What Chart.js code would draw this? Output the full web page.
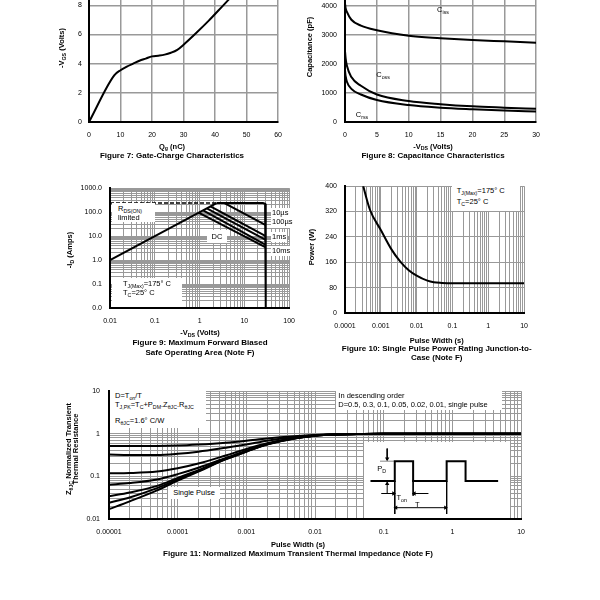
<!DOCTYPE html>
<html><head><meta charset="utf-8">
<script src="https://cdn.jsdelivr.net/npm/chart.js@4.4.1/dist/chart.umd.min.js"></script>
<style>
html,body{margin:0;padding:0;background:#fff;}
body{width:600px;height:600px;position:relative;overflow:hidden;font-family:"Liberation Sans",Arial,sans-serif;color:#000;}
.cw{position:absolute;}
.cw canvas{display:block;}
.t{position:absolute;white-space:nowrap;transform:translate(-50%,-50%);line-height:1;}
.tl{position:absolute;white-space:nowrap;transform:translate(0,-50%);line-height:1;}
.rot{transform:translate(-50%,-50%) rotate(-90deg);}
.ttl{font-size:7.5px;font-weight:bold;}
.cap{font-size:8px;font-weight:bold;}
.lab{font-size:7.5px;}
.wb{position:absolute;background:#fff;}
sub{font-size:70%;vertical-align:baseline;position:relative;top:0.35em;line-height:0;}
</style></head><body>

<div id="c7" class="cw"><canvas></canvas></div>
<div id="c8" class="cw"><canvas></canvas></div>
<div id="c9" class="cw"><canvas></canvas></div>
<div id="c10" class="cw"><canvas></canvas></div>
<div id="c11" class="cw"><canvas></canvas></div>
<div id="cin" class="cw" style="background:#fff"><canvas></canvas></div>

<!-- Figure 7 texts -->
<div class="t rot ttl" style="left:62px;top:48px">-V<sub>GS</sub> (Volts)</div>
<div class="t ttl" style="left:172px;top:146.5px">Q<sub>g</sub> (nC)</div>
<div class="t cap" style="left:172px;top:155.5px">Figure 7: Gate-Charge Characteristics</div>

<!-- Figure 8 texts -->
<div class="t rot ttl" style="left:310px;top:47px">Capacitance (pF)</div>
<div class="t ttl" style="left:433px;top:146.5px">-V<sub>DS</sub> (Volts)</div>
<div class="t cap" style="left:433px;top:155.5px">Figure 8: Capacitance Characteristics</div>
<div class="t lab" style="left:443px;top:10px">C<sub>iss</sub></div>
<div class="t lab" style="left:383px;top:75px">C<sub>oss</sub></div>
<div class="t lab" style="left:362px;top:115px">C<sub>rss</sub></div>

<!-- Figure 9 texts -->
<div class="t rot ttl" style="left:70px;top:250px">-I<sub>D</sub> (Amps)</div>
<div class="t ttl" style="left:200px;top:333.3px">-V<sub>DS</sub> (Volts)</div>
<div class="t cap" style="left:200px;top:343.3px">Figure 9: Maximum Forward Biased</div>
<div class="t cap" style="left:200px;top:352.7px">Safe Operating Area (Note F)</div>
<div class="wb" style="left:112px;top:203px;width:43px;height:19px"></div>
<div class="tl lab" style="left:118px;top:209px">R<sub>DS(ON)</sub></div>
<div class="tl lab" style="left:118px;top:218px">limited</div>
<div class="wb" style="left:112px;top:278px;width:70px;height:29px"></div>
<div class="tl lab" style="left:123px;top:284px">T<sub>J(Max)</sub>=175° C</div>
<div class="tl lab" style="left:123px;top:292.7px">T<sub>C</sub>=25° C</div>
<div class="wb" style="left:207px;top:230px;width:20px;height:13px"></div>
<div class="t lab" style="left:217px;top:236.7px">DC</div>
<div class="wb" style="left:271px;top:208px;width:20px;height:10px"></div>
<div class="tl lab" style="left:272px;top:213px">10µs</div>
<div class="wb" style="left:271px;top:217.5px;width:21px;height:10px"></div>
<div class="tl lab" style="left:272px;top:222.3px">100µs</div>
<div class="wb" style="left:271px;top:232px;width:16px;height:10px"></div>
<div class="tl lab" style="left:272px;top:236.7px">1ms</div>
<div class="wb" style="left:271px;top:246px;width:19px;height:10px"></div>
<div class="tl lab" style="left:272px;top:251px">10ms</div>

<!-- Figure 10 texts -->
<div class="t rot ttl" style="left:311.7px;top:246.7px">Power (W)</div>
<div class="t ttl" style="left:436.7px;top:340.7px">Pulse Width (s)</div>
<div class="t cap" style="left:436.7px;top:349.3px">Figure 10: Single Pulse Power Rating Junction-to-</div>
<div class="t cap" style="left:436.7px;top:358.3px">Case (Note F)</div>
<div class="wb" style="left:452px;top:181px;width:68px;height:30px"></div>
<div class="tl lab" style="left:456.7px;top:191px">T<sub>J(Max)</sub>=175° C</div>
<div class="tl lab" style="left:456.7px;top:202.3px">T<sub>C</sub>=25° C</div>

<!-- Figure 11 texts -->
<div class="t rot ttl" style="left:71.7px;top:449px;line-height:7px;text-align:center">Z<sub>θJC</sub> Normalized Transient<br>Thermal Resistance</div>
<div class="t ttl" style="left:298px;top:545px">Pulse Width (s)</div>
<div class="t cap" style="left:298px;top:554px">Figure 11: Normalized Maximum Transient Thermal Impedance (Note F)</div>
<div class="wb" style="left:110px;top:385.5px;width:96px;height:42px"></div>
<div class="tl lab" style="left:115px;top:395.7px">D=T<sub>on</sub>/T</div>
<div class="tl lab" style="left:115px;top:405px">T<sub>J,PK</sub>=T<sub>C</sub>+P<sub>DM</sub>.Z<sub>θJC</sub>.R<sub>θJC</sub></div>
<div class="tl lab" style="left:115px;top:420.7px">R<sub>θJC</sub>=1.6° C/W</div>
<div class="wb" style="left:336px;top:385.5px;width:166px;height:24px"></div>
<div class="tl lab" style="left:338.3px;top:395.7px">In descending order</div>
<div class="tl lab" style="left:338.3px;top:405px">D=0.5, 0.3, 0.1, 0.05, 0.02, 0.01, single pulse</div>
<div class="wb" style="left:168px;top:486.5px;width:52px;height:12px"></div>
<div class="t lab" style="left:194px;top:492.5px">Single Pulse</div>
<div class="t lab" style="left:381.7px;top:469.3px">P<sub>D</sub></div>
<div class="t lab" style="left:401.7px;top:498.3px">T<sub>on</sub></div>
<div class="t lab" style="left:417.3px;top:505px">T</div>

<script>
// ---------------- DATA ----------------
// Figure 7: gate charge
const gateCharge  = [0, 8, 10, 12, 14, 16, 18, 20, 22, 24, 26, 28, 30, 34, 38, 42.6, 47, 51.5];
const gateVoltage = [0, 3.2, 3.55, 3.8, 4.0, 4.2, 4.35, 4.5, 4.55, 4.62, 4.75, 4.95, 5.3, 6.1, 6.95, 8.0, 9.0, 10.0];

// Figure 8: capacitance
const capVds = [0, 0.1, 0.3, 1, 2.5, 5, 10, 15, 20, 25, 30];
const capCiss = [4100, 3930, 3800, 3530, 3330, 3170, 2980, 2895, 2830, 2785, 2740];
const capCoss = [2450, 2200, 1940, 1550, 1250, 950, 725, 615, 540, 495, 455];
const capCrss = [1780, 1580, 1390, 1145, 950, 760, 585, 495, 440, 395, 365];

// Figure 9: safe operating area
const soaXLabels = ['0.01', '0.1', '1', '10', '100'];
const soaYLabels = ['0.0', '0.1', '1.0', '10.0', '100.0', '1000.0'];
const soaRdsV = [0.01, 2.4];          const soaRdsI = [1, 240];
const soaLimitV = [0.01, 2.4];        const soaLimitI = [240, 240];
const soaEnvV = [2.4, 26, 29, 30, 30]; const soaEnvI = [240, 240, 225, 185, 0.01];
const soa10usV = [3.6, 30];   const soa10usI = [240, 29];
const soa100usV = [1.75, 30]; const soa100usI = [175, 10];
const soa1msV = [1.45, 30];   const soa1msI = [145, 7];
const soa10msV = [1.2, 30];   const soa10msI = [120, 4.3];
const soaDcV = [0.95, 30];    const soaDcI = [95, 3.4];

// Figure 10: single pulse power
const ppXLabels = ['0.0001', '0.001', '0.01', '0.1', '1', '10'];
const ppWidth = [0.00029, 0.0005, 0.001, 0.002, 0.0035, 0.006, 0.01, 0.02, 0.03, 0.05, 0.1, 1, 10];
const ppPower = [420, 325, 262, 200, 162, 135, 118, 102, 97, 95, 94, 94, 94];

// Figure 11: transient thermal impedance
const ztXLabels = ['0.00001', '0.0001', '0.001', '0.01', '0.1', '1', '10'];
const ztYLabels = ['0.01', '0.1', '1', '10'];
const ztTime = [1e-5, 2e-5, 5e-5, 1e-4, 2e-4, 5e-4, 1e-3, 2e-3, 5e-3, 1e-2, 2e-2, 5e-2, 0.1, 1, 10];
const ztD05  = [0.52, 0.52, 0.52, 0.53, 0.56, 0.62, 0.69, 0.78, 0.88, 0.94, 0.975, 0.99, 1.0, 1.0, 1.0];
const ztD03  = [0.325, 0.32, 0.32, 0.34, 0.38, 0.47, 0.56, 0.69, 0.84, 0.93, 0.97, 0.99, 1.0, 1.0, 1.0];
const ztD01  = [0.118, 0.12, 0.13, 0.155, 0.2, 0.31, 0.44, 0.6, 0.8, 0.91, 0.965, 0.99, 1.0, 1.0, 1.0];
const ztD005 = [0.064, 0.07, 0.085, 0.113, 0.16, 0.27, 0.4, 0.58, 0.79, 0.905, 0.96, 0.99, 1.0, 1.0, 1.0];
const ztD002 = [0.034, 0.042, 0.06, 0.092, 0.14, 0.26, 0.39, 0.57, 0.785, 0.9, 0.96, 0.99, 1.0, 1.0, 1.0];
const ztD001 = [0.024, 0.032, 0.053, 0.085, 0.135, 0.255, 0.385, 0.565, 0.78, 0.9, 0.96, 0.99, 1.0, 1.0, 1.0];
const ztSingle = [0.017, 0.026, 0.047, 0.08, 0.13, 0.25, 0.38, 0.56, 0.78, 0.9, 0.96, 0.99, 1.0, 1.0, 1.0];

// Figure 11 inset: pulse-train schematic (time units / level units)
const inWaveT = [0.18, 1.94, 1.94, 3.27, 3.27, 5.7, 5.7, 7.07, 7.07, 9.43];
const inWaveL = [0, 0, 1, 1, 0, 0, 1, 1, 0, 0];
const inMark1T = [1.94, 1.94]; const inMark1L = [0, -1.7];
const inMark2T = [5.7, 5.7];   const inMark2L = [0, -1.7];
const inMark3T = [3.27, 3.27]; const inMark3L = [0.05, -0.75];
const inRefT = [0.87, 1.94];   const inRefL = [1, 1];
const inPdDownT = [1.39, 1.39]; const inPdDownL = [1.64, 1.05];
const inPdUpT = [1.39, 1.39];   const inPdUpL = [-0.64, -0.08];
const inTonLT = [0.96, 1.9];    const inTonLL = [-0.64, -0.64];
const inTonRT = [4.38, 3.32];   const inTonRL = [-0.64, -0.64];
const inPerT = [1.94, 5.7];     const inPerL = [-1.36, -1.36];
const inHeadT = [1.39, 1.39, 1.85, 3.36, 2.03, 5.61];
const inHeadL = [1.12, -0.15, -0.64, -0.64, -1.36, -1.36];
const inHeadRot = [180, 0, 90, 270, 270, 90];

// ---------------- HELPERS ----------------
Chart.defaults.font.family = '"Liberation Sans", Arial, sans-serif';
Chart.defaults.font.size = 7;
Chart.defaults.color = '#000';

const pts = (xs, ys) => xs.map((x, i) => ({x: x, y: ys[i]}));
const line = (xs, ys, o) => Object.assign({data: pts(xs, ys), showLine: true, pointRadius: 0,
  borderColor: '#000', borderWidth: 2, tension: 0}, o || {});

function logGrid(min, max) {
  const out = [];
  const e0 = Math.round(Math.log10(min)), e1 = Math.round(Math.log10(max));
  for (let e = e0; e < e1; e++) for (let m = 1; m < 10; m++) out.push(parseFloat((m * Math.pow(10, e)).toPrecision(6)));
  out.push(max);
  return out;
}

function linAxis(pos, min, max, step, size, pad, gw) {
  return {type: 'linear', position: pos, min: min, max: max,
    afterFit: s => { if (pos === 'bottom') s.height = size; else s.width = size; },
    ticks: {stepSize: step, padding: pad, maxRotation: 0, autoSkip: false, callback: v => String(v)},
    grid: {color: '#999', lineWidth: gw || 1.5, drawTicks: false},
    border: {color: '#000', width: 2}};
}
function logAxis(pos, min, max, labels, size, pad) {
  return {type: 'logarithmic', position: pos, min: min, max: max,
    afterFit: s => { if (pos === 'bottom') s.height = size; else s.width = size; },
    afterBuildTicks: s => { s.ticks = logGrid(min, max).map(v => ({value: v})); },
    ticks: {padding: pad, maxRotation: 0, autoSkip: false, source: 'data',
      callback: v => { const k = Math.log10(v / min); const r = Math.round(k); return Math.abs(k - r) < 1e-6 ? labels[r] : ''; }},
    grid: {color: '#999', lineWidth: 1, drawTicks: false},
    border: {color: '#000', width: 2}};
}

function makeChart(id, plot, pad, scales, datasets) {
  const wrap = document.getElementById(id);
  wrap.style.left = (plot[0] - pad.w) + 'px';
  wrap.style.top = (plot[1] - pad.t) + 'px';
  wrap.style.width = (plot[2] - plot[0] + pad.w + pad.r) + 'px';
  wrap.style.height = (plot[3] - plot[1] + pad.t + pad.h) + 'px';
  return new Chart(wrap.querySelector('canvas'), {
    type: 'scatter',
    data: {datasets: datasets},
    options: {responsive: true, maintainAspectRatio: false, animation: false, devicePixelRatio: 1,
      layout: {padding: {left: 0, top: pad.t, right: pad.r, bottom: 0}},
      scales: scales,
      plugins: {legend: {display: false}, tooltip: {enabled: false}}}
  });
}

const PAD = {w: 50, h: 22, t: 6, r: 12};

// Figure 7
makeChart('c7', [89, -29, 279, 122], PAD,
  {x: linAxis('bottom', 0, 60, 10, PAD.h, 9), y: linAxis('left', 0, 10, 2, PAD.w, 7)},
  [line(gateCharge, gateVoltage, {cubicInterpolationMode: 'monotone'})]);

// Figure 8
makeChart('c8', [345, -29, 537, 122], PAD,
  {x: linAxis('bottom', 0, 30, 5, PAD.h, 9), y: linAxis('left', 0, 5000, 1000, PAD.w, 8)},
  [line(capVds, capCiss, {cubicInterpolationMode: 'monotone'}),
   line(capVds, capCoss, {cubicInterpolationMode: 'monotone'}),
   line(capVds, capCrss, {cubicInterpolationMode: 'monotone'})]);

// Figure 9
makeChart('c9', [110, 182, 292, 308], PAD,
  {x: logAxis('bottom', 0.01, 100, soaXLabels, PAD.h, 9), y: logAxis('left', 0.01, 1000, soaYLabels, PAD.w, 8)},
  [line(soaLimitV, soaLimitI, {borderWidth: 1.5, borderDash: [4, 2]}),
   line(soaRdsV, soaRdsI),
   line(soaEnvV, soaEnvI),
   line(soa10usV, soa10usI),
   line(soa100usV, soa100usI),
   line(soa1msV, soa1msI),
   line(soa10msV, soa10msI),
   line(soaDcV, soaDcI)]);

// Figure 10
makeChart('c10', [345, 180, 525, 313], PAD,
  {x: logAxis('bottom', 0.0001, 10, ppXLabels, PAD.h, 9), y: linAxis('left', 0, 400, 80, PAD.w, 8, 1)},
  [line(ppWidth, ppPower, {cubicInterpolationMode: 'monotone'})]);

// Figure 11
const ztSeries = [ztD05, ztD03, ztD01, ztD005, ztD002, ztD001, ztSingle];
makeChart('c11', [109, 384, 522, 519], PAD,
  {x: logAxis('bottom', 0.00001, 10, ztXLabels, PAD.h, 9), y: logAxis('left', 0.01, 10, ztYLabels, PAD.w, 9)},
  ztSeries.map(s => line(ztTime, s, {cubicInterpolationMode: 'monotone'})));

// Figure 11 inset
const thin = {borderWidth: 1};
makeChart('cin', [364, 442, 510, 518], {w: 0, h: 0, t: 0, r: 0},
  {x: {type: 'linear', display: false, min: 0, max: 10},
   y: {type: 'linear', display: false, min: -1.68, max: 1.77}},
  [line(inWaveT, inWaveL, {borderWidth: 2}),
   line(inMark1T, inMark1L, thin), line(inMark2T, inMark2L, thin), line(inMark3T, inMark3L, thin),
   line(inRefT, inRefL, {borderWidth: 1, borderColor: '#888'}),
   line(inPdDownT, inPdDownL, thin), line(inPdUpT, inPdUpL, thin),
   line(inTonLT, inTonLL, thin), line(inTonRT, inTonRL, thin), line(inPerT, inPerL, thin),
   {data: pts(inHeadT, inHeadL), showLine: false, pointStyle: 'triangle', pointRadius: 2.5,
    rotation: inHeadRot, backgroundColor: '#000', borderColor: '#000', borderWidth: 0}]);
</script>
</body></html>
